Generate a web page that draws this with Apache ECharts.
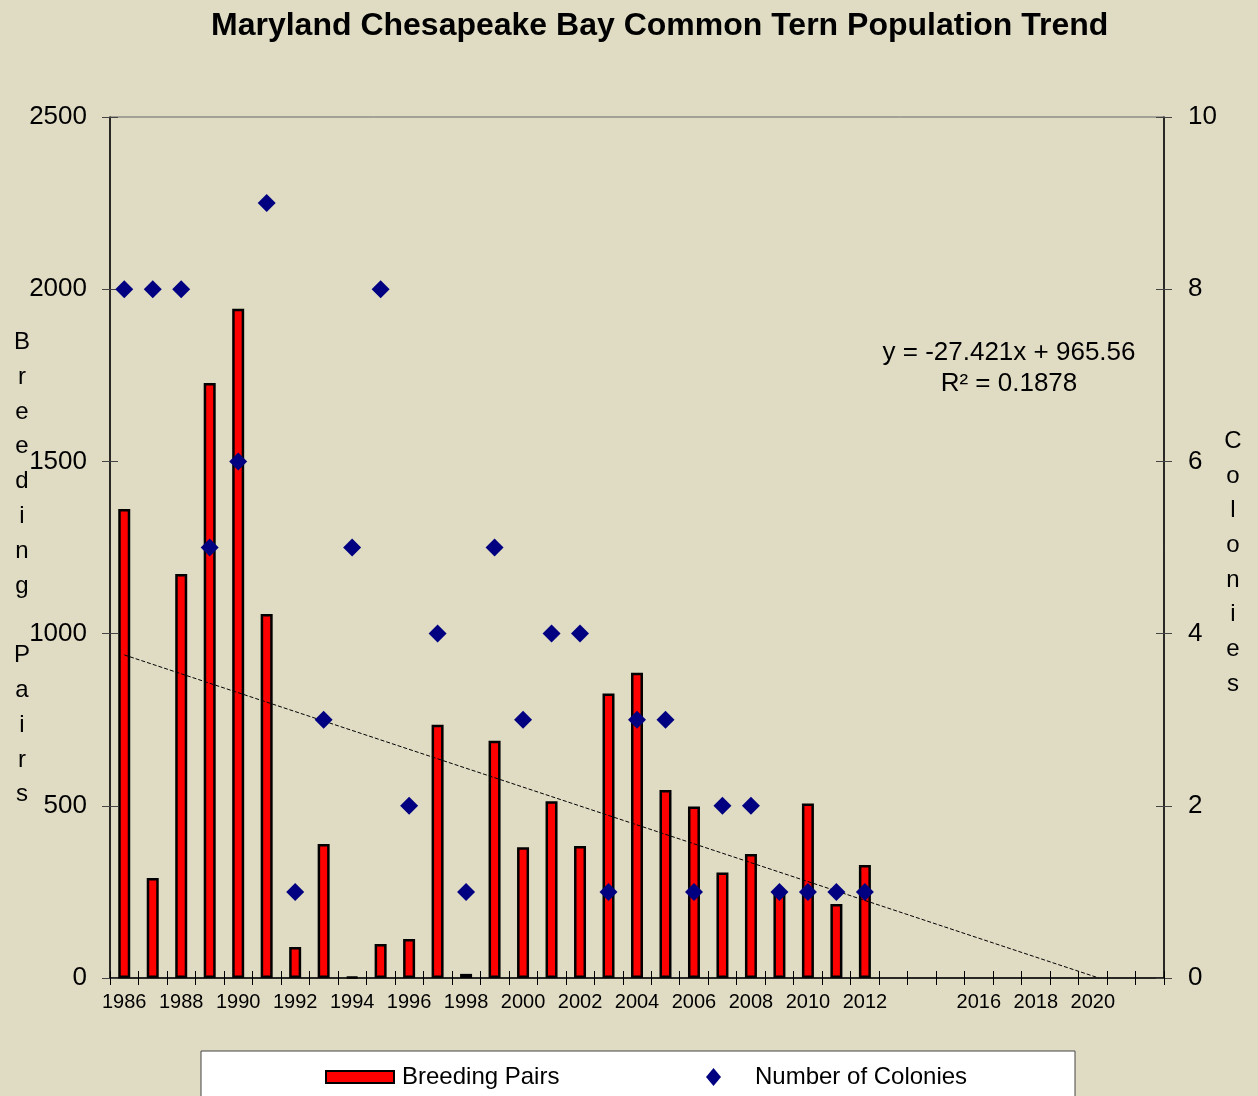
<!DOCTYPE html>
<html>
<head>
<meta charset="utf-8">
<script src="https://cdn.jsdelivr.net/npm/echarts@6/dist/echarts.min.js"></script>
<style>
html,body{margin:0;padding:0;background:#E0DCC4;}
#chart{width:1258px;height:1096px;}
</style>
</head>
<body>
<div id="chart"></div>
<script>
// ---- data ----
const years = ['1986','1987','1988','1989','1990','1991','1992','1993','1994','1995','1996','1997','1998','1999','2000','2001','2002','2003','2004','2005','2006','2007','2008','2009','2010','2011','2012','2013','2014','2015','2016','2017','2018','2019','2020','2021','2022'];
const xTickLabels = ['1986','1988','1990','1992','1994','1996','1998','2000','2002','2004','2006','2008','2010','2012','2016','2018','2020'];
const breedingPairs = [1362,290,1173,1728,1943,1057,90,389,3,99,113,735,12,689,380,513,383,826,886,546,498,306,360,247,507,215,328];
const colonies = [8,8,8,5,6,9,1,3,5,8,2,4,1,5,3,4,4,1,3,3,1,2,2,1,1,1,1];
const leftTicks = [0,500,1000,1500,2000,2500];
const rightTicks = [0,2,4,6,8,10];
const trendSlope = -27.421;
const trendIntercept = 965.56;
const trendEquation = 'y = -27.421x + 965.56\nR² = 0.1878';

// ---- derived ----
const pad = (arr) => years.map((y, i) => (i < arr.length ? arr[i] : null));
const trendStart = 1;
const trendEnd = -trendIntercept / trendSlope; // x where trend reaches 0
const trendData = [
  [trendStart, trendSlope * trendStart + trendIntercept],
  [trendEnd, trendSlope * trendEnd + trendIntercept]
];

const FONT = '"Liberation Sans", Arial, sans-serif';
const chart = echarts.init(document.getElementById('chart'));

const baseY = {
  type: 'value', min: 0, max: leftTicks[leftTicks.length - 1], interval: leftTicks[1] - leftTicks[0]
};
const baseYR = {
  type: 'value', min: 0, max: rightTicks[rightTicks.length - 1], interval: rightTicks[1] - rightTicks[0]
};

chart.setOption({
  backgroundColor: '#E0DCC4',
  animation: false,
  textStyle: { fontFamily: FONT },
  title: {
    text: 'Maryland Chesapeake Bay Common Tern Population Trend',
    left: 206, top: 5,
    textStyle: { fontFamily: FONT, fontSize: 32, fontWeight: 'bold', color: '#000' }
  },
  grid: {
    left: 110, right: 94, top: 117, bottom: 118,
    show: true, borderColor: '#666', borderWidth: 1, backgroundColor: 'transparent'
  },
  legend: [
    {
      data: [{ name: 'Breeding Pairs', icon: 'rect' }],
      left: 320, top: 1060,
      itemWidth: 68, itemHeight: 12,
      textStyle: { fontFamily: FONT, fontSize: 24, color: '#000', padding: [0, 0, 0, 3] }
    },
    {
      data: [{ name: 'Number of Colonies', icon: 'diamond' }],
      left: 701, top: 1060,
      itemWidth: 15, itemHeight: 18,
      textStyle: { fontFamily: FONT, fontSize: 24, color: '#000', padding: [0, 0, 0, 29] }
    }
  ],
  xAxis: [
    {
      type: 'category', data: years, boundaryGap: true, gridIndex: 0,
      axisLine: { lineStyle: { color: '#000', width: 1.5 } },
      axisTick: { show: true, interval: 0, length: 7, lineStyle: { color: '#000' } },
      axisLabel: {
        interval: 0, margin: 14, color: '#000', fontSize: 20, fontFamily: FONT,
        formatter: (v) => (xTickLabels.includes(v) ? v : '')
      },
      splitLine: { show: false }
    },
    {
      type: 'value', min: 0.5, max: years.length + 0.5, show: false, gridIndex: 0
    },
    {
      type: 'category', data: years, boundaryGap: true, gridIndex: 0, position: 'bottom',
      axisLine: { show: false },
      axisTick: { show: true, inside: true, interval: 0, length: 7, lineStyle: { color: '#000' } },
      axisLabel: { show: false },
      splitLine: { show: false }
    }
  ],
  yAxis: [
    Object.assign({}, baseY, {
      position: 'left',
      axisLine: { show: true, lineStyle: { color: '#000', width: 1.5 } },
      axisTick: { show: true, length: 8, lineStyle: { color: '#444' } },
      axisLabel: { margin: 23, color: '#000', fontSize: 26, fontFamily: FONT, formatter: (v) => String(v) },
      splitLine: { show: false }
    }),
    Object.assign({}, baseYR, {
      position: 'right',
      axisLine: { show: true, lineStyle: { color: '#000', width: 1.5 } },
      axisTick: { show: true, length: 8, lineStyle: { color: '#444' } },
      axisLabel: { margin: 24, color: '#000', fontSize: 26, fontFamily: FONT, formatter: (v) => String(v) },
      splitLine: { show: false }
    }),
    Object.assign({}, baseY, {
      position: 'left',
      axisLine: { show: false },
      axisTick: { show: true, inside: true, length: 8, lineStyle: { color: '#444' } },
      axisLabel: { show: false },
      splitLine: { show: false }
    }),
    Object.assign({}, baseYR, {
      position: 'right',
      axisLine: { show: false },
      axisTick: { show: true, inside: true, length: 8, lineStyle: { color: '#444' } },
      axisLabel: { show: false },
      splitLine: { show: false }
    })
  ],
  graphic: [
    {
      type: 'text', x: 22, y: 325,
      style: {
        text: 'B\nr\ne\ne\nd\ni\nn\ng\n\nP\na\ni\nr\ns',
        align: 'center', verticalAlign: 'top', lineHeight: 34.8,
        font: '24px ' + FONT, fill: '#000'
      }
    },
    {
      type: 'text', x: 1233, y: 424,
      style: {
        text: 'C\no\nl\no\nn\ni\ne\ns',
        align: 'center', verticalAlign: 'top', lineHeight: 34.7,
        font: '24px ' + FONT, fill: '#000'
      }
    },
    {
      type: 'text', x: 1009, y: 337,
      style: {
        text: trendEquation,
        align: 'center', verticalAlign: 'top', lineHeight: 31,
        font: '26px ' + FONT, fill: '#000'
      }
    },
    {
      type: 'rect', z: -1,
      shape: { x: 201, y: 1051, width: 874, height: 60 },
      style: { fill: '#fff', stroke: '#444', lineWidth: 1 }
    }
  ],
  series: [
    {
      name: 'Breeding Pairs', type: 'bar', xAxisIndex: 0, yAxisIndex: 0,
      data: pad(breedingPairs), barWidth: 12,
      itemStyle: { color: '#FF0000', borderColor: '#000', borderWidth: 2.5 }
    },
    {
      name: 'Number of Colonies', type: 'scatter', xAxisIndex: 0, yAxisIndex: 1,
      data: pad(colonies), symbol: 'diamond', symbolSize: [18, 18], z: 5,
      itemStyle: { color: '#000080', opacity: 1 }
    },
    {
      name: 'Trend', type: 'line', xAxisIndex: 1, yAxisIndex: 0,
      data: trendData, symbol: 'none', z: 4,
      lineStyle: { color: '#000', width: 1, type: [4, 2] }
    }
  ]
});
</script>
</body>
</html>
